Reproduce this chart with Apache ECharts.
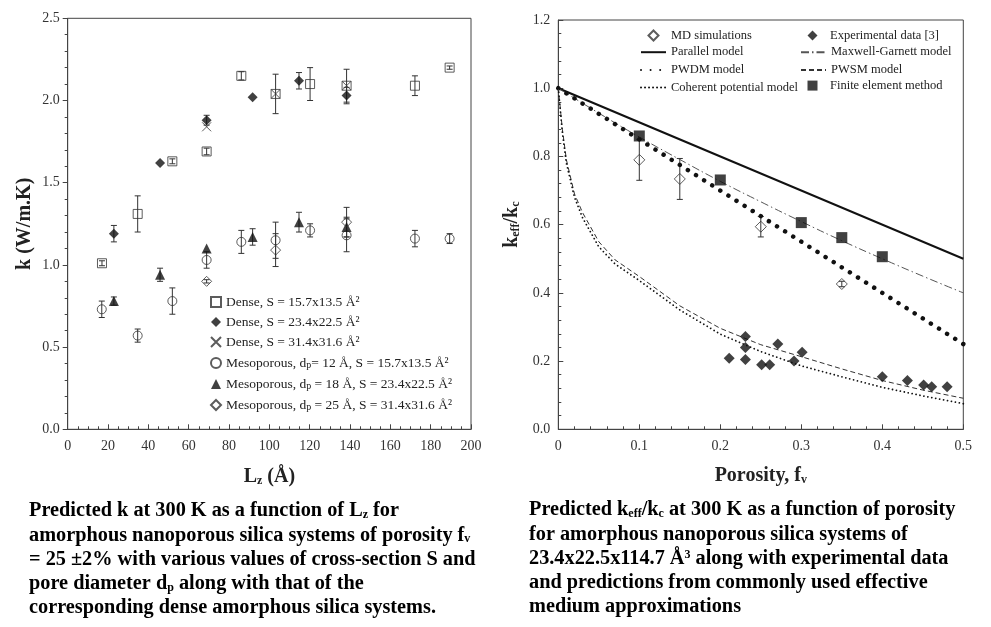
<!DOCTYPE html>
<html><head><meta charset="utf-8">
<script src="https://cdn.jsdelivr.net/npm/echarts@6/dist/echarts.min.js"></script>
<style>html,body{margin:0;padding:0;background:#fff}#c{width:991px;height:627px}</style>
</head><body><div id="c"></div>
<script>
// ---------- Left chart: k vs Lz ----------
const leftNames = [
  'Dense, S = 15.7x13.5 Å²',
  'Dense, S = 23.4x22.5 Å²',
  'Dense, S = 31.4x31.6 Å²',
  'Mesoporous, dp= 12 Å, S = 15.7x13.5 Å²',
  'Mesoporous, dp = 18 Å, S = 23.4x22.5 Å²',
  'Mesoporous, dp = 25 Å, S = 31.4x31.6 Å²'
];
const denseA_x = [17, 34.7, 51.9, 68.9, 86.1, 103.1, 120.2, 138.3, 172.2, 189.4];
const denseA_y = [1.01, 1.31, 1.63, 1.69, 2.15, 2.04, 2.10, 2.09, 2.09, 2.20];
const denseA_e = [0.015, 0.11, 0.015, 0.02, 0.025, 0.12, 0.10, 0.10, 0.06, 0.01];
const denseB_x = [22.9, 45.8, 68.9, 91.7, 114.7, 138.3];
const denseB_y = [1.19, 1.62, 1.88, 2.02, 2.12, 2.03];
const denseB_e = [0.05, 0, 0.03, 0, 0.05, 0.05];
const denseC_x = [68.9, 103.1, 138.3];
const denseC_y = [1.84, 2.04, 2.09];
const mesoA_x = [16.9, 34.7, 51.9, 68.9, 86.1, 103.1, 120.2, 138.3, 172.2, 189.4];
const mesoA_y = [0.73, 0.57, 0.78, 1.03, 1.14, 1.15, 1.21, 1.18, 1.16, 1.16];
const mesoA_e = [0.05, 0.04, 0.08, 0.05, 0.07, 0.11, 0.04, 0.10, 0.05, 0.03];
const mesoB_x = [22.9, 45.8, 68.9, 91.7, 114.7, 138.3];
const mesoB_y = [0.78, 0.94, 1.10, 1.17, 1.26, 1.23];
const mesoB_e = [0.025, 0.04, 0, 0.05, 0.06, 0.06];
const mesoC_x = [68.9, 103.1, 138.3];
const mesoC_y = [0.90, 1.09, 1.26];
const mesoC_e = [0.01, 0.10, 0.09];

// ---------- Right chart: keff/kc vs porosity ----------
const rightNames = ['MD simulations', 'Experimental data [3]', 'Parallel model', 'Maxwell-Garnett model',
  'PWDM model', 'PWSM model', 'Coherent potential model', 'Finite element method'];
const md_x = [0.10, 0.15, 0.25, 0.35];
const md_y = [0.79, 0.734, 0.594, 0.426];
const md_e = [0.06, 0.06, 0.03, 0.008];
const exp_x = [0.211, 0.231, 0.231, 0.231, 0.251, 0.261, 0.271, 0.291, 0.301, 0.400, 0.431, 0.451, 0.461, 0.480];
const exp_y = [0.208, 0.272, 0.240, 0.205, 0.189, 0.189, 0.250, 0.200, 0.226, 0.154, 0.143, 0.130, 0.125, 0.125];
const fem_x = [0.1, 0.2, 0.3, 0.35, 0.4];
const fem_y = [0.860, 0.731, 0.606, 0.562, 0.506];
const parallel_x = [0, 0.5];
const parallel_y = [1.0, 0.5];
const mg_x = [0, 0.05, 0.1, 0.15, 0.2, 0.25, 0.3, 0.35, 0.4, 0.45, 0.5];
const mg_y = [1.0, 0.927, 0.857, 0.791, 0.727, 0.667, 0.609, 0.553, 0.500, 0.449, 0.400];
const pwdm_x = [0, 0.5];
const pwdm_y = [1.0, 0.25];
const curve_x = [0, 0.005, 0.01, 0.02, 0.03, 0.05, 0.07, 0.1, 0.15, 0.2, 0.25, 0.3, 0.35, 0.4, 0.45, 0.5];
const pwsm_y = [1.0, 0.88, 0.79, 0.69, 0.635, 0.55, 0.497, 0.448, 0.362, 0.296, 0.248, 0.213, 0.177, 0.143, 0.115, 0.091];
const cpm_y = [1.0, 0.87, 0.78, 0.68, 0.62, 0.535, 0.485, 0.436, 0.350, 0.279, 0.228, 0.186, 0.154, 0.123, 0.098, 0.075];

// ---------- helpers ----------
const SERIF = '"Liberation Serif","Times New Roman",serif';
const INK = '#222';
const NOFILL = 'rgba(0,0,0,0)';
const zip = (xs, ys) => xs.map((x, i) => [x, ys[i]]);
const errs = (xs, ys, es) => xs.map((x, i) => [x, ys[i] - es[i], ys[i] + es[i]]).filter((d, i) => es[i] > 0.004);
function errRender(params, api) {
  const x = api.value(0), lo = api.value(1), hi = api.value(2);
  const a = api.coord([x, hi]), b = api.coord([x, lo]);
  const w = 3, st = { stroke: '#333', lineWidth: 1 };
  return { type: 'group', children: [
    { type: 'line', shape: { x1: a[0], y1: a[1], x2: b[0], y2: b[1] }, style: st },
    { type: 'line', shape: { x1: a[0] - w, y1: a[1], x2: a[0] + w, y2: a[1] }, style: st },
    { type: 'line', shape: { x1: b[0] - w, y1: b[1], x2: b[0] + w, y2: b[1] }, style: st }
  ]};
}
const tickLabel = { fontFamily: SERIF, fontSize: 14, color: '#333' };
const axLine = { lineStyle: { color: '#444', width: 1 } };
const nameRich = {
  a: { fontFamily: SERIF, fontSize: 20, fontWeight: 'bold', color: INK },
  s: { fontFamily: SERIF, fontSize: 12, fontWeight: 'bold', color: INK, verticalAlign: 'bottom', padding: [8, 0, 0, 0] }
};
const open = { color: NOFILL, borderColor: '#333', borderWidth: 1 };
const solid = { color: '#111' };
const crossPath = 'path://M0,0L10,10M0,10L10,0';

function errSeries(data, xi, yi) {
  return { type: 'custom', xAxisIndex: xi, yAxisIndex: yi, renderItem: errRender, data: data, z: 1, silent: true };
}

// right legend geometry: rows 16.7 px apart, columns at 640 / 800
const RL_TOP = 29, RL_ROW = 16.7;
const rText = { fontFamily: SERIF, fontSize: 12.5, color: INK, lineHeight: 12 };
function lineLegend(left, row, names) {
  return { left: left, top: RL_TOP + row * RL_ROW, padding: 0, orient: 'vertical', itemWidth: 25, itemHeight: 10,
    itemGap: RL_ROW - 12, selectedMode: false, data: names, textStyle: rText };
}
function markLegend(left, row, names) {
  return { left: left + 7.5, top: RL_TOP + row * RL_ROW, padding: 0, orient: 'vertical', itemWidth: 10, itemHeight: 10,
    itemGap: RL_ROW - 12, selectedMode: false, data: names,
    textStyle: Object.assign({ padding: [0, 0, 0, 7.5] }, rText) };
}

const chart = echarts.init(document.getElementById('c'), null, { renderer: 'canvas' });
const option = {
  backgroundColor: '#fff',
  animation: false,
  grid: [
    { left: 67.7, right: 520, top: 18.3, bottom: 197.7, show: true, borderColor: '#444', borderWidth: 1 },
    { left: 558.3, right: 27.7, top: 20, bottom: 197.7, show: true, borderColor: '#444', borderWidth: 1 }
  ],
  xAxis: [
    { gridIndex: 0, type: 'value', min: 0, max: 200, interval: 20,
      axisLine: axLine, axisTick: { inside: true, length: 5, lineStyle: { color: '#444' } },
      minorTick: { show: true, splitNumber: 4, length: 3, lineStyle: { color: '#444' } },
      splitLine: { show: false }, axisLabel: Object.assign({ margin: 10 }, tickLabel),
      name: '{a|L}{s|z}{a| (Å)}', nameLocation: 'middle', nameGap: 38, nameTextStyle: { rich: nameRich } },
    { gridIndex: 1, type: 'value', min: 0, max: 0.5, interval: 0.1,
      axisLine: axLine, axisTick: { inside: true, length: 5, lineStyle: { color: '#444' } },
      minorTick: { show: true, splitNumber: 5, length: 3, lineStyle: { color: '#444' } },
      splitLine: { show: false }, axisLabel: Object.assign({ margin: 10, formatter: v => v === 0 ? '0' : String(+v.toFixed(1)) }, tickLabel),
      name: '{a|Porosity, f}{s|v}', nameLocation: 'middle', nameGap: 37, nameTextStyle: { rich: nameRich } }
  ],
  yAxis: [
    { gridIndex: 0, type: 'value', min: 0, max: 2.5, interval: 0.5,
      axisLine: axLine, axisTick: { inside: false, length: 5, lineStyle: { color: '#444' } },
      minorTick: { show: true, splitNumber: 5, length: 3, lineStyle: { color: '#444' } },
      splitLine: { show: false }, axisLabel: Object.assign({ margin: 8, formatter: v => v.toFixed(1) }, tickLabel),
      name: '{a|k (W/m.K)}', nameLocation: 'middle', nameGap: 33, nameTextStyle: { rich: nameRich } },
    { gridIndex: 1, type: 'value', min: 0, max: 1.2, interval: 0.2,
      axisLine: axLine, axisTick: { inside: true, length: 5, lineStyle: { color: '#444' } },
      minorTick: { show: true, splitNumber: 5, length: 3, lineStyle: { color: '#444' } },
      splitLine: { show: false }, axisLabel: Object.assign({ margin: 8, formatter: v => v.toFixed(1) }, tickLabel),
      name: '{a|k}{s|eff}{a|/k}{s|c}', nameLocation: 'middle', nameGap: 36, nameTextStyle: { rich: nameRich } }
  ],
  legend: [
    { left: 210, top: 295, padding: 0, orient: 'vertical', itemWidth: 10, itemHeight: 10, itemGap: 6, selectedMode: false,
      data: leftNames,
      formatter: function (name) {
        const i = name.indexOf('dp');
        if (i < 0) return '{t|' + name + '}';
        return '{t|' + name.slice(0, i + 1) + '}{s|p}{t|' + name.slice(i + 2) + '}';
      },
      textStyle: { rich: {
        t: { fontFamily: SERIF, fontSize: 13.5, color: INK, lineHeight: 14 },
        s: { fontFamily: SERIF, fontSize: 10, color: INK, verticalAlign: 'bottom', lineHeight: 14, padding: [5, 0, 0, 0] } } } },
    markLegend(640, 0, [rightNames[0]]),
    lineLegend(640, 1, [rightNames[2], rightNames[4], rightNames[6]]),
    markLegend(800, 0, [rightNames[1]]),
    lineLegend(800, 1, [rightNames[3], rightNames[5]]),
    markLegend(800, 3, [rightNames[7]])
  ],
  series: [
    // left error bars
    errSeries(errs(denseA_x, denseA_y, denseA_e), 0, 0),
    errSeries(errs(denseB_x, denseB_y, denseB_e), 0, 0),
    errSeries(errs(mesoA_x, mesoA_y, mesoA_e), 0, 0),
    errSeries(errs(mesoB_x, mesoB_y, mesoB_e), 0, 0),
    errSeries(errs(mesoC_x, mesoC_y, mesoC_e), 0, 0),
    // left markers
    { name: leftNames[0], type: 'scatter', xAxisIndex: 0, yAxisIndex: 0, symbol: 'rect', symbolSize: 9, itemStyle: open, data: zip(denseA_x, denseA_y), z: 3 },
    { name: leftNames[1], type: 'scatter', xAxisIndex: 0, yAxisIndex: 0, symbol: 'diamond', symbolSize: 10, itemStyle: solid, data: zip(denseB_x, denseB_y), z: 3 },
    { name: leftNames[2], type: 'scatter', xAxisIndex: 0, yAxisIndex: 0, symbol: crossPath, symbolSize: 9, itemStyle: open, data: zip(denseC_x, denseC_y), z: 3 },
    { name: leftNames[3], type: 'scatter', xAxisIndex: 0, yAxisIndex: 0, symbol: 'circle', symbolSize: 9, itemStyle: open, data: zip(mesoA_x, mesoA_y), z: 3 },
    { name: leftNames[4], type: 'scatter', xAxisIndex: 0, yAxisIndex: 0, symbol: 'triangle', symbolSize: 10, itemStyle: solid, data: zip(mesoB_x, mesoB_y), z: 3 },
    { name: leftNames[5], type: 'scatter', xAxisIndex: 0, yAxisIndex: 0, symbol: 'diamond', symbolSize: 10, itemStyle: open, data: zip(mesoC_x, mesoC_y), z: 3 },
    // right curves
    { name: rightNames[2], type: 'line', xAxisIndex: 1, yAxisIndex: 1, symbol: 'none', data: zip(parallel_x, parallel_y),
      lineStyle: { color: '#111', width: 2 }, itemStyle: { color: NOFILL }, z: 2 },
    { name: rightNames[3], type: 'line', xAxisIndex: 1, yAxisIndex: 1, symbol: 'none', smooth: true, data: zip(mg_x, mg_y),
      lineStyle: { color: '#555', width: 1, type: [8, 3, 1.5, 3] }, itemStyle: { color: NOFILL }, z: 2 },
    { name: rightNames[4], type: 'line', xAxisIndex: 1, yAxisIndex: 1, symbol: 'none', data: zip(pwdm_x, pwdm_y),
      lineStyle: { color: '#111', width: 4.5, type: [0.01, 9.57], cap: 'round' }, itemStyle: { color: NOFILL }, z: 2 },
    { name: rightNames[5], type: 'line', xAxisIndex: 1, yAxisIndex: 1, symbol: 'none', data: zip(curve_x, pwsm_y),
      lineStyle: { color: '#333', width: 1, type: [5, 3] }, itemStyle: { color: NOFILL }, z: 2 },
    { name: rightNames[6], type: 'line', xAxisIndex: 1, yAxisIndex: 1, symbol: 'none', data: zip(curve_x, cpm_y),
      lineStyle: { color: '#111', width: 1.8, type: [0.01, 4], cap: 'round' }, itemStyle: { color: NOFILL }, z: 2 },
    // right markers
    errSeries(errs(md_x, md_y, md_e), 1, 1),
    { name: rightNames[0], type: 'scatter', xAxisIndex: 1, yAxisIndex: 1, symbol: 'diamond', symbolSize: 11, itemStyle: open, data: zip(md_x, md_y), z: 3 },
    { name: rightNames[1], type: 'scatter', xAxisIndex: 1, yAxisIndex: 1, symbol: 'diamond', symbolSize: 11, itemStyle: solid, data: zip(exp_x, exp_y), z: 3 },
    { name: rightNames[7], type: 'scatter', xAxisIndex: 1, yAxisIndex: 1, symbol: 'rect', symbolSize: 11, itemStyle: solid, data: zip(fem_x, fem_y), z: 3 }
  ],
  graphic: []
};

// captions
const capRich = {
  b: { fontFamily: SERIF, fontSize: 20.3, fontWeight: 'bold', color: '#111' },
  s: { fontFamily: SERIF, fontSize: 12, fontWeight: 'bold', color: '#111', verticalAlign: 'bottom', padding: [8, 0, 0, 0] },
  p: { fontFamily: SERIF, fontSize: 12, fontWeight: 'bold', color: '#111', verticalAlign: 'top', padding: [0, 0, 8, 0] }
};
const leftCaption = [
  '{b|Predicted k at 300 K as a function of L}{s|z}{b| for}',
  '{b|amorphous nanoporous silica systems of porosity f}{s|v}',
  '{b|= 25 ±2% with various values of cross-section S and}',
  '{b|pore diameter d}{s|p}{b| along with that of the}',
  '{b|corresponding dense amorphous silica systems.}'
];
const rightCaption = [
  '{b|Predicted k}{s|eff}{b|/k}{s|c}{b| at 300 K as a function of porosity}',
  '{b|for amorphous nanoporous silica systems of}',
  '{b|23.4x22.5x114.7 Å}{p|3}{b| along with experimental data}',
  '{b|and predictions from commonly used effective}',
  '{b|medium approximations}'
];
leftCaption.forEach((t, i) => option.graphic.push({ type: 'text', left: 29, top: 501 + i * 24.3,
  style: { text: t, rich: capRich } }));
rightCaption.forEach((t, i) => option.graphic.push({ type: 'text', left: 529, top: 500 + i * 24.3,
  style: { text: t, rich: capRich } }));

chart.setOption(option);
</script></body></html>
